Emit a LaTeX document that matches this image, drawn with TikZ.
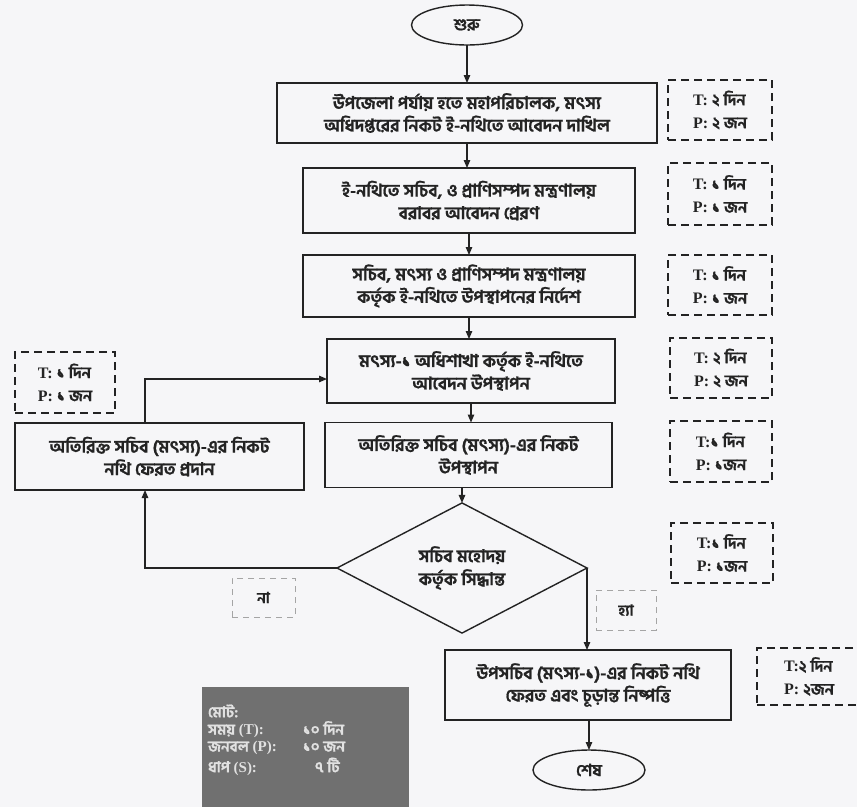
\documentclass[tikz,border=0pt]{standalone}
\usepackage{fontspec}
\setmainfont{Liberation Serif}
\newfontfamily\bn[Script=Bengali,BoldFeatures={FakeBold=1}]{Hind Siliguri}
\newfontfamily\lat{Liberation Serif}
\usetikzlibrary{arrows.meta,shapes.geometric}
\definecolor{bg}{RGB}{246,246,248}
\definecolor{ink}{RGB}{35,35,35}
\definecolor{greybox}{RGB}{112,112,112}
\definecolor{greytxt}{RGB}{225,225,225}
\definecolor{lightdash}{RGB}{165,165,165}
\begin{document}
\begin{tikzpicture}[x=1pt,y=-1pt,
  every node/.style={inner sep=0pt,outer sep=0pt},
  procbox/.style={draw=ink,line width=1.4pt,fill=bg,align=center,font=\bn\bfseries\fontsize{17.5}{22.5}\selectfont,text=ink},
  termbox/.style={ellipse,draw=ink,line width=1.4pt,fill=bg,font=\bn\bfseries\fontsize{16.5}{18}\selectfont,text=ink},
  decbox/.style={diamond,draw=ink,line width=1.4pt,fill=bg,align=center,font=\bn\bfseries\fontsize{17.5}{23}\selectfont,text=ink},
  tpbox/.style={draw=ink,line width=1.3pt,dash pattern=on 8pt off 5pt,align=left,font=\bfseries\fontsize{16}{23}\selectfont,text=ink},
  lblbox/.style={draw=lightdash,line width=0.9pt,dash pattern=on 6pt off 5pt,font=\bn\bfseries\fontsize{15}{16}\selectfont,text=ink},
  sumline/.style={anchor=west,text=greytxt,font=\bfseries\fontsize{15}{17}\selectfont},
  flow/.style={draw=ink,line width=1.2pt,-{Triangle[length=8pt,width=6.5pt]}}
]
\useasboundingbox[fill=bg] (0,0) rectangle (857,807);

% terminals
\node[termbox,minimum width=111pt,minimum height=40pt] (start) at (467,25) {শুরু};
\node[termbox,minimum width=112pt,minimum height=40pt] (stop) at (589,770) {শেষ};

% process boxes
\node[procbox,minimum width=380pt,minimum height=60pt] (b1) at (467,113)
  {উপজেলা পর্যায় হতে মহাপরিচালক, মৎস্য\\অধিদপ্তরের নিকট ই-নথিতে আবেদন দাখিল};
\node[procbox,minimum width=332pt,minimum height=65pt] (b2) at (469,200.5)
  {ই-নথিতে সচিব, ও প্রাণিসম্পদ মন্ত্রণালয়\\বরাবর আবেদন প্রেরণ};
\node[procbox,minimum width=332pt,minimum height=62pt] (b3) at (469,286)
  {সচিব, মৎস্য ও প্রাণিসম্পদ মন্ত্রণালয়\\কর্তৃক ই-নথিতে উপস্থাপনের নির্দেশ};
\node[procbox,minimum width=288pt,minimum height=64pt] (b4) at (471,371)
  {মৎস্য-১ অধিশাখা কর্তৃক ই-নথিতে\\আবেদন উপস্থাপন};
\node[procbox,minimum width=287pt,minimum height=65pt] (b5) at (468.5,455)
  {অতিরিক্ত সচিব (মৎস্য)-এর নিকট\\উপস্থাপন};
\node[procbox,minimum width=289pt,minimum height=67pt] (b5l) at (159.5,456.5)
  {অতিরিক্ত সচিব (মৎস্য)-এর নিকট\\নথি ফেরত প্রদান};
\node[decbox,minimum width=250pt,minimum height=124pt] (dec) at (462,568)
  {সচিব মহোদয়\\কর্তৃক সিদ্ধান্ত};
\node[procbox,minimum width=286pt,minimum height=70pt] (b7) at (588,685)
  {উপসচিব (মৎস্য-১)-এর নিকট নথি\\ফেরত এবং চূড়ান্ত নিষ্পত্তি};

% time / people boxes
\node[tpbox,minimum width=104pt,minimum height=60pt] (t1) at (720,110)
  {T: {\bn ২ দিন}\\P: {\bn ২ জন}};
\node[tpbox,minimum width=104pt,minimum height=62pt] (t2) at (720,194)
  {T: {\bn ১ দিন}\\P: {\bn ১ জন}};
\node[tpbox,minimum width=104pt,minimum height=60pt] (t3) at (720,285)
  {T: {\bn ১ দিন}\\P: {\bn ১ জন}};
\node[tpbox,minimum width=102pt,minimum height=60pt] (t4) at (721,368)
  {T: {\bn ২ দিন}\\P: {\bn ২ জন}};
\node[tpbox,minimum width=102pt,minimum height=61pt] (t5) at (721,451.5)
  {T:{\bn ১ দিন}\\P: {\bn ১জন}};
\node[tpbox,minimum width=102pt,minimum height=60pt] (t6) at (722,553)
  {T:{\bn ১ দিন}\\P: {\bn ১জন}};
\node[tpbox,minimum width=104pt,minimum height=57pt] (t7) at (809,676.5)
  {T:{\bn ২ দিন}\\P: {\bn ২জন}};
\node[tpbox,minimum width=100pt,minimum height=61pt] (tl) at (65,382.5)
  {T: {\bn ১ দিন}\\P: {\bn ১ জন}};

% yes / no labels
\node[lblbox,minimum width=63pt,minimum height=39pt] (no) at (263.5,597.5) {না};
\node[lblbox,minimum width=60pt,minimum height=40pt] (yes) at (626,610) {হ্যা};

% summary
\node[fill=greybox,minimum width=207pt,minimum height=120pt] (sum) at (305.5,747) {};
\node[sumline] (s1) at (208,711) {\bn\bfseries মোট:};
\node[sumline] (s2) at (208,729.5) {\makebox[95pt][l]{{\bn\bfseries সময়} (T):}{\bn\bfseries ১০ দিন}};
\node[sumline] (s3) at (208,748) {\makebox[95pt][l]{{\bn\bfseries জনবল} (P):}{\bn\bfseries ১০ জন}};
\node[sumline] (s4) at (208,766.5) {\makebox[95pt][l]{{\bn\bfseries ধাপ} (S):}\hspace{12pt}{\bn\bfseries ৭ টি}};

% connectors
\draw[flow] (start.south) -- (b1.north -| start.south);
\draw[flow] (b1.south) -- (b2.north -| b1.south);
\draw[flow] (b2.south) -- (b3.north -| b2.south);
\draw[flow] (b3.south) -- (b4.north -| b3.south);
\draw[flow] (b4.south) -- (b5.north -| b4.south);
\draw[flow] (b5.south -| dec.north) -- (dec.north);
\coordinate (nocorner) at (145,568);
\draw[flow] (dec.west) -- (nocorner) -- (b5l.south -| nocorner);
\coordinate (backup) at (145,379);
\draw[flow] (b5l.north -| backup) -- (backup) -- (b4.west |- backup);
\coordinate (yescorner) at (587,568);
\draw[flow] (dec.east) -- (yescorner) -- (b7.north -| yescorner);
\draw[flow] (b7.south -| stop.north) -- (stop.north);
\end{tikzpicture}
\end{document}
